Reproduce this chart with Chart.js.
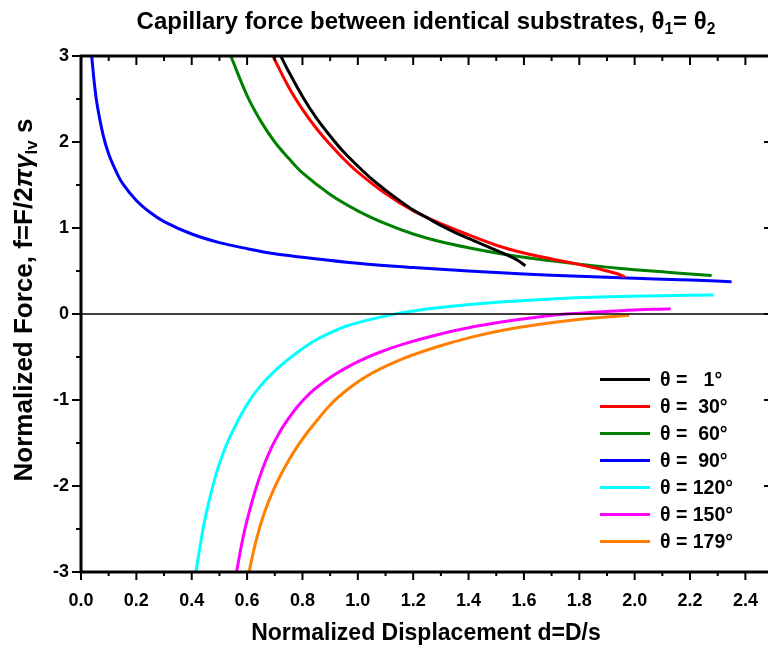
<!DOCTYPE html>
<html>
<head>
<meta charset="utf-8">
<script src="https://cdn.jsdelivr.net/npm/chart.js@4.4.1/dist/chart.umd.min.js"></script>
<style>
  body { margin: 0; background: #fff; }
  #wrap { position: relative; width: 768px; height: 646px; overflow: hidden;
          font-family: "Liberation Sans", Arial, sans-serif; font-weight: bold; color: #000; }
  #c { position: absolute; left: 0; top: 0; }
  .title { position: absolute; left: 0; width: 852px; top: 7px; line-height: 28px; text-align: center; font-size: 24px; }
  .xlab { position: absolute; left: 0; width: 852px; top: 618px; line-height: 28px; text-align: center; font-size: 23px; }
  .ylab { position: absolute; left: -227px; top: 286px; width: 500px; height: 28px; line-height: 28px;
          text-align: center; font-size: 26px; transform: rotate(-90deg); }
  sub { font-size: 0.65em; vertical-align: -0.3em; line-height: 0; }
  .leg { position: absolute; left: 0; top: 0; }
  .row { position: absolute; left: 600px; height: 22px; width: 168px; }
  .row .ln { position: absolute; left: 0; top: 10px; width: 50px; height: 3px; }
  .row .tx { position: absolute; left: 60px; top: 0; font-size: 19.5px; line-height: 22px; white-space: pre; }
</style>
</head>
<body>
<div id="wrap">
  <canvas id="c" width="776" height="646"></canvas>
  <div class="title">Capillary force between identical substrates, θ<sub>1</sub>= θ<sub>2</sub></div>
  <div class="xlab">Normalized Displacement d=D/s</div>
  <div class="ylab">Normalized Force, f=F/2<i>πγ</i><sub>lv</sub> s</div>
  <div class="leg" id="leg"></div>
</div>
<script>
// theta = 1
const d1 = [0.722,0.75,0.8,0.85,0.9,0.95,1.0,1.05,1.1,1.15,1.2,1.25,1.3,1.35,1.4,1.45,1.5,1.55,1.58,1.605];
const f1 = [3.0,2.82,2.53,2.28,2.07,1.88,1.72,1.57,1.44,1.32,1.21,1.12,1.03,0.95,0.88,0.81,0.74,0.67,0.62,0.56];
// theta = 30
const d30 = [0.693,0.75,0.8,0.85,0.9,0.95,1.0,1.1,1.2,1.3,1.4,1.5,1.6,1.7,1.77,1.85,1.9,1.94,1.964];
const f30 = [3.0,2.64,2.38,2.16,1.97,1.80,1.65,1.40,1.20,1.05,0.92,0.80,0.71,0.64,0.595,0.54,0.50,0.465,0.43];
// theta = 60
const d60 = [0.541,0.6,0.65,0.7,0.75,0.8,0.9,1.0,1.1,1.2,1.3,1.4,1.5,1.6,1.7,1.8,1.9,2.0,2.1,2.2,2.278];
const f60 = [3.0,2.54,2.24,2.00,1.81,1.64,1.39,1.20,1.05,0.93,0.84,0.77,0.71,0.66,0.618,0.58,0.545,0.515,0.49,0.465,0.447];
// theta = 90
const d90 = [0.0385,0.05,0.06,0.08,0.1,0.125,0.15,0.2,0.25,0.3,0.4,0.5,0.6,0.7,0.8,1.0,1.2,1.4,1.6,1.8,2.0,2.2,2.35];
const f90 = [3.0,2.63,2.40,2.08,1.86,1.67,1.52,1.32,1.18,1.075,0.93,0.83,0.76,0.70,0.66,0.59,0.54,0.50,0.465,0.44,0.415,0.395,0.375];
// theta = 120
const d120 = [0.415,0.442,0.46,0.478,0.5,0.538,0.598,0.65,0.718,0.78,0.839,0.9,0.959,1.043,1.15,1.28,1.404,1.513,1.7,1.874,2.1,2.285];
const f120 = [-3.0,-2.48,-2.21,-1.98,-1.74,-1.43,-1.06,-0.83,-0.61,-0.45,-0.32,-0.22,-0.14,-0.065,0.01,0.07,0.11,0.14,0.175,0.197,0.213,0.22];
// theta = 150
const d150 = [0.562,0.58,0.598,0.628,0.658,0.688,0.718,0.75,0.78,0.81,0.839,0.9,0.959,1.02,1.079,1.164,1.284,1.404,1.524,1.645,1.765,1.95,2.13];
const f150 = [-3.0,-2.685,-2.424,-2.07,-1.782,-1.554,-1.371,-1.214,-1.085,-0.977,-0.887,-0.738,-0.623,-0.525,-0.445,-0.35,-0.244,-0.158,-0.091,-0.038,0.002,0.039,0.062];
// theta = 179
const d179 = [0.607,0.63,0.658,0.688,0.718,0.75,0.78,0.81,0.839,0.9,0.959,1.02,1.079,1.164,1.284,1.404,1.524,1.645,1.765,1.88,1.98];
const f179 = [-3.0,-2.666,-2.352,-2.10,-1.893,-1.704,-1.548,-1.41,-1.291,-1.058,-0.887,-0.747,-0.641,-0.518,-0.384,-0.275,-0.19,-0.125,-0.075,-0.04,-0.016];

const thetas = [1, 30, 60, 90, 120, 150, 179];
const colors = ['#000000', '#ff0000', '#008000', '#0000ff', '#00ffff', '#ff00ff', '#ff8000'];
const xs = [d1, d30, d60, d90, d120, d150, d179];
const ys = [f1, f30, f60, f90, f120, f150, f179];

const xTickValues = [0, 0.2, 0.4, 0.6, 0.8, 1.0, 1.2, 1.4, 1.6, 1.8, 2.0, 2.2, 2.4];
const xTickLabels = ['0.0','0.2','0.4','0.6','0.8','1.0','1.2','1.4','1.6','1.8','2.0','2.2','2.4'];
const yTickValues = [-3, -2, -1, 0, 1, 2, 3];
const yTickLabels = ['-3', '-2', '-1', '0', '1', '2', '3'];

const tickFont = { family: '"Liberation Sans", Arial, sans-serif', size: 18, weight: 'bold' };

function pickLabel(vals, labels, v) {
  for (let i = 0; i < vals.length; i++) {
    if (Math.abs(vals[i] - v) < 1e-6) return labels[i];
  }
  return '';
}

// axis frame, zero line and Origin-like ticks (major + minor)
const framePlugin = {
  id: 'frame',
  afterDatasetsDraw(chart) {
    const ctx = chart.ctx;
    const a = chart.chartArea;
    const x = chart.scales.x, y = chart.scales.y;
    function seg(x1, y1, x2, y2) { ctx.beginPath(); ctx.moveTo(x1, y1); ctx.lineTo(x2, y2); ctx.stroke(); }
    ctx.save();
    ctx.strokeStyle = '#000';
    ctx.lineWidth = 1.5;
    const y0 = y.getPixelForValue(0);
    seg(a.left, y0, a.right, y0);

    ctx.lineWidth = 2;
    for (let i = 0; i <= 25; i++) {
      const px = x.getPixelForValue(i / 10);
      const len = i % 2 === 0 ? 8 : 4;
      seg(px, a.bottom, px, a.bottom + len);
      seg(px, a.top, px, a.top + len + 1);
    }
    for (let i = -6; i <= 6; i++) {
      const py = y.getPixelForValue(i / 2);
      const len = i % 2 === 0 ? 9 : 5;
      seg(a.left - len, py, a.left, py);
      seg(a.right - len, py, a.right, py);
    }
    ctx.lineWidth = 3;
    ctx.strokeRect(a.left, a.top, a.right - a.left, a.bottom - a.top);
    ctx.restore();
  }
};

const datasets = thetas.map(function (t, i) {
  return {
    label: 'θ = ' + t + '°',
    data: xs[i].map(function (d, k) { return { x: d, y: ys[i][k] }; }),
    borderColor: colors[i],
    borderWidth: 3,
    pointRadius: 0,
    showLine: true,
    fill: false,
    tension: 0.35
  };
});

new Chart(document.getElementById('c'), {
  type: 'scatter',
  data: { datasets: datasets },
  options: {
    responsive: false,
    animation: false,
    devicePixelRatio: 1,
    layout: { padding: { top: 56, right: 2.5, left: 0, bottom: 0 } },
    plugins: { legend: { display: false }, tooltip: { enabled: false } },
    scales: {
      x: {
        type: 'linear', min: 0, max: 2.5,
        grid: { display: false, drawTicks: false, tickLength: 0 },
        border: { display: false },
        ticks: {
          stepSize: 0.2, includeBounds: false, autoSkip: false, maxRotation: 0,
          padding: 18, color: '#000', font: tickFont,
          callback: function (v) { return pickLabel(xTickValues, xTickLabels, v); }
        },
        afterFit: function (s) { s.height = 74; }
      },
      y: {
        type: 'linear', min: -3, max: 3,
        grid: { display: false, drawTicks: false, tickLength: 0 },
        border: { display: false },
        ticks: {
          stepSize: 1, autoSkip: false, padding: 12, color: '#000', font: tickFont,
          callback: function (v) { return pickLabel(yTickValues, yTickLabels, v); }
        },
        afterFit: function (s) { s.width = 81; }
      }
    }
  },
  plugins: [framePlugin]
});

// legend inside plot, lower right
const leg = document.getElementById('leg');
thetas.forEach(function (t, i) {
  const s = String(t);
  const row = document.createElement('div');
  row.className = 'row';
  row.style.top = (368 + i * 27) + 'px';
  row.innerHTML = '<div class="ln" style="background:' + colors[i] + '"></div>' +
    '<div class="tx">θ =' + ' '.repeat(4 - s.length) + s + '°</div>';
  leg.appendChild(row);
});
</script>
</body>
</html>
